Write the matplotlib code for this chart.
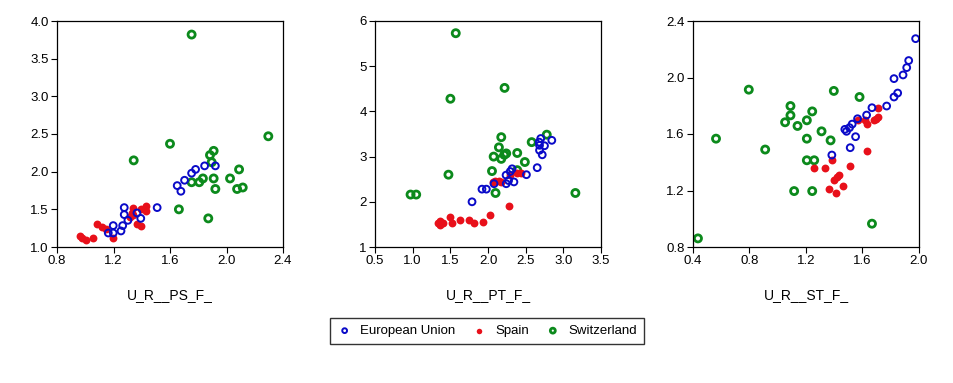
import matplotlib
matplotlib.use("Agg")
import matplotlib.pyplot as plt
from matplotlib.ticker import FixedLocator

plt.rcParams["font.family"] = ["Liberation Sans Narrow", "Liberation Sans", "DejaVu Sans"]

# ---- Panel 1: U_R__PS_F_ ----
ps_eu_x = [1.921, 1.845, 1.781, 1.753, 1.703, 1.651, 1.677, 1.509, 1.276, 1.366, 1.276,
           1.393, 1.302, 1.198, 1.265, 1.253, 1.163, 1.198]
ps_eu_y = [2.077, 2.077, 2.03, 1.98, 1.886, 1.815, 1.74, 1.523, 1.523, 1.452, 1.43,
           1.38, 1.354, 1.284, 1.284, 1.213, 1.186, 1.186]
ps_es_x = [1.430, 1.34, 1.43, 1.393, 1.328, 1.34, 1.314, 1.366, 1.393, 1.082, 1.122,
           1.146, 1.056, 1.198, 0.966, 0.98, 1.006]
ps_es_y = [1.55, 1.523, 1.48, 1.50, 1.452, 1.43, 1.40, 1.31, 1.284, 1.31, 1.26,
           1.235, 1.115, 1.115, 1.14, 1.115, 1.093]
ps_ch_x = [1.753, 2.296, 1.60, 1.343, 1.909, 1.883, 1.895, 2.089, 2.025, 1.909, 1.833,
           1.807, 1.753, 1.921, 2.075, 2.115, 1.663, 1.871]
ps_ch_y = [3.82, 2.47, 2.37, 2.15, 2.276, 2.22, 2.125, 2.03, 1.91, 1.91, 1.91,
           1.86, 1.86, 1.77, 1.77, 1.79, 1.50, 1.38]

# ---- Panel 2: U_R__PT_F_ ----
pt_eu_x = [1.788, 1.92, 1.978, 2.08, 2.242, 2.273, 2.295, 2.32, 2.344, 2.51, 2.653,
           2.684, 2.70, 2.68, 2.75, 2.72, 2.847, 2.684, 2.24]
pt_eu_y = [2.0, 2.28, 2.28, 2.40, 2.40, 2.47, 2.67, 2.73, 2.44, 2.60, 2.755,
           3.25, 3.40, 3.32, 3.24, 3.04, 3.36, 3.14, 2.59]
pt_es_x = [1.334, 1.36, 1.36, 1.404, 1.501, 1.528, 1.625, 1.744, 1.815, 1.934, 2.03,
           2.273, 2.066, 2.14, 2.176, 2.286, 2.388, 2.44, 2.097]
pt_es_y = [1.53, 1.57, 1.48, 1.53, 1.66, 1.52, 1.59, 1.59, 1.52, 1.55, 1.715,
           1.91, 2.44, 2.47, 2.44, 2.59, 2.645, 2.645, 2.47]
pt_ch_x = [1.572, 1.501, 2.22, 1.475, 0.972, 1.047, 3.16, 2.176, 2.145, 2.075, 2.176,
           2.216, 2.242, 2.388, 2.489, 2.053, 2.10, 2.58, 2.78, 2.388]
pt_ch_y = [5.73, 4.28, 4.52, 2.60, 2.16, 2.16, 2.195, 3.43, 3.205, 3.0, 2.95,
           3.04, 3.07, 3.08, 2.88, 2.68, 2.195, 3.32, 3.485, 2.70]

# ---- Panel 3: U_R__ST_F_ ----
st_eu_x = [1.976, 1.927, 1.913, 1.887, 1.823, 1.849, 1.823, 1.771, 1.667, 1.629, 1.565,
           1.527, 1.508, 1.475, 1.487, 1.551, 1.513, 1.383]
st_eu_y = [2.275, 2.12, 2.07, 2.018, 1.992, 1.89, 1.862, 1.798, 1.786, 1.734, 1.708,
           1.67, 1.645, 1.633, 1.619, 1.581, 1.503, 1.451]
st_es_x = [1.707, 1.707, 1.693, 1.681, 1.617, 1.629, 1.565, 1.629, 1.513, 1.383, 1.258,
           1.336, 1.436, 1.421, 1.397, 1.46, 1.362, 1.414]
st_es_y = [1.786, 1.72, 1.708, 1.697, 1.697, 1.67, 1.697, 1.477, 1.376, 1.414, 1.362,
           1.362, 1.312, 1.296, 1.272, 1.234, 1.208, 1.182]
st_ch_x = [0.435, 0.563, 0.795, 0.911, 1.052, 1.09, 1.09, 1.14, 1.206, 1.206, 1.244,
           1.206, 1.258, 1.116, 1.244, 1.31, 1.374, 1.397, 1.579, 1.667]
st_ch_y = [0.861, 1.567, 1.914, 1.49, 1.683, 1.732, 1.798, 1.657, 1.697, 1.567, 1.76,
           1.414, 1.414, 1.196, 1.196, 1.619, 1.555, 1.905, 1.862, 0.965]

labels = ["European Union", "Spain", "Switzerland"]
x_titles = ["U_R__PS_F_", "U_R__PT_F_", "U_R__ST_F_"]
x_ticks = [[0.8, 1.2, 1.6, 2.0, 2.4], [0.5, 1.0, 1.5, 2.0, 2.5, 3.0, 3.5], [0.4, 0.8, 1.2, 1.6, 2.0]]
y_ticks = [[1.0, 1.5, 2.0, 2.5, 3.0, 3.5, 4.0], [1, 2, 3, 4, 5, 6], [0.8, 1.2, 1.6, 2.0, 2.4]]
y_fmt = ["{:.1f}", "{:.0f}", "{:.1f}"]

panels = [
    (ps_eu_x, ps_eu_y, ps_es_x, ps_es_y, ps_ch_x, ps_ch_y),
    (pt_eu_x, pt_eu_y, pt_es_x, pt_es_y, pt_ch_x, pt_ch_y),
    (st_eu_x, st_eu_y, st_es_x, st_es_y, st_ch_x, st_ch_y),
]

blue = "#0a0ac8"
red = "#e8101a"
green = "#0c8a1c"

fig = plt.figure(figsize=(9.54, 3.83), dpi=100)
lefts = [57 / 954, 375 / 954, 693 / 954]
handles = None

for i, (ex, ey, sx, sy, cx, cy) in enumerate(panels):
    ax = fig.add_axes([lefts[i], 136 / 383, 226 / 954, 226 / 383])
    h1 = ax.scatter(ex, ey, s=24, facecolors="none", edgecolors=blue, linewidths=1.4, zorder=3)
    h2 = ax.scatter(sx, sy, s=32, color=red, linewidths=0, zorder=2)
    h3 = ax.scatter(cx, cy, s=26, facecolors="none", edgecolors=green, linewidths=2.0, zorder=1)
    handles = [h1, h2, h3]

    ax.set_xlim(x_ticks[i][0], x_ticks[i][-1])
    ax.set_ylim(y_ticks[i][0], y_ticks[i][-1])
    ax.xaxis.set_major_locator(FixedLocator(x_ticks[i]))
    ax.yaxis.set_major_locator(FixedLocator(y_ticks[i]))
    ax.set_xticklabels(["{:.1f}".format(t) for t in x_ticks[i]])
    ax.set_yticklabels([y_fmt[i].format(t) for t in y_ticks[i]])
    ax.tick_params(direction="out", length=4, width=0.8, labelsize=9.5, pad=2)
    for sp in ax.spines.values():
        sp.set_linewidth(0.9)
    ax.set_xlabel(x_titles[i], fontsize=10, labelpad=15)

leg = fig.legend(handles, labels, loc="center", bbox_to_anchor=(487 / 954, 1 - 331 / 383),
                 ncol=3, fontsize=9.5, frameon=True, fancybox=False, edgecolor="black",
                 handletextpad=0.6, columnspacing=1.2, handlelength=1.2, borderpad=0.5,
                 borderaxespad=0, markerscale=0.7)
leg.get_frame().set_linewidth(1.0)

fig.savefig("out.png", dpi=100)
